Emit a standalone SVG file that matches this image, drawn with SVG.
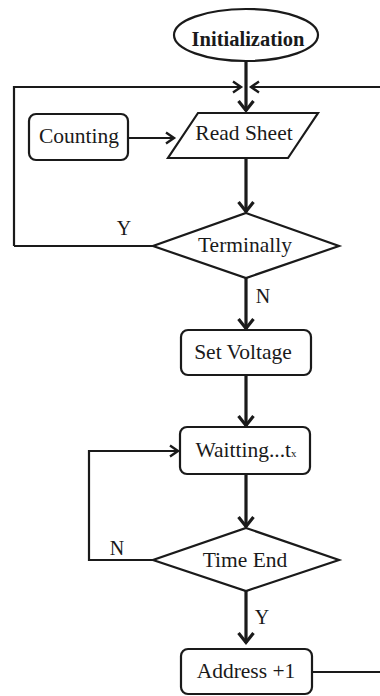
<svg xmlns="http://www.w3.org/2000/svg" width="380" height="696" viewBox="0 0 380 696">
  <style>
    .shape { fill: #ffffff; stroke: #1a1a1a; stroke-width: 2.2; }
    .label { font-family: "Liberation Serif", "Times New Roman", serif; font-size: 21.5px; fill: #1a1a1a; text-anchor: middle; }
    .title { font-weight: bold; font-size: 20.5px; }
    .yn { font-family: "Liberation Serif", "Times New Roman", serif; font-size: 20px; fill: #1a1a1a; }
    .flow { fill: none; stroke: #1a1a1a; stroke-width: 3.2; }
    .line { fill: none; stroke: #1a1a1a; stroke-width: 2.2; }
  </style>
  <defs>
    <marker id="head" markerUnits="userSpaceOnUse" viewBox="0 0 12 18" refX="11" refY="9" markerWidth="12" markerHeight="18" orient="auto" overflow="visible">
      <path d="M1,1.5 L10.5,9 L1,16.5" fill="none" stroke="#1a1a1a" stroke-width="3.2"/>
    </marker>
    <marker id="headThin" markerUnits="userSpaceOnUse" viewBox="0 0 10 14" refX="9" refY="7" markerWidth="10" markerHeight="14" orient="auto" overflow="visible">
      <path d="M1,1.5 L9,7 L1,12.5" fill="none" stroke="#1a1a1a" stroke-width="2.4"/>
    </marker>
  </defs>
  <rect width="380" height="696" fill="#ffffff"/>

  <!-- connectors -->
  <g id="connectors">
    <path class="flow" d="M246,61 V111" marker-end="url(#head)"/>
    <path class="line" d="M14,246 V87 H241" marker-end="url(#headThin)"/>
    <path class="line" d="M380,87 H251" marker-end="url(#headThin)"/>
    <path class="line" d="M128,138 H174" marker-end="url(#headThin)"/>
    <path class="flow" d="M246,158 V212" marker-end="url(#head)"/>
    <path class="line" d="M153,246 H14"/>
    <path class="flow" d="M246,277 V329" marker-end="url(#head)"/>
    <path class="flow" d="M246,375 V426" marker-end="url(#head)"/>
    <path class="line" d="M153,560 H89 V451 H178" marker-end="url(#headThin)"/>
    <path class="flow" d="M246,474 V527" marker-end="url(#head)"/>
    <path class="flow" d="M246,591 V643" marker-end="url(#head)"/>
    <path class="line" d="M312,672 H380"/>
    <text class="yn" x="124" y="235" text-anchor="middle">Y</text>
    <text class="yn" x="263" y="303" text-anchor="middle">N</text>
    <text class="yn" x="117" y="555" text-anchor="middle">N</text>
    <text class="yn" x="262" y="624" text-anchor="middle">Y</text>
  </g>

  <g id="init">
    <ellipse class="shape" cx="246" cy="35" rx="72" ry="26"/>
    <text class="label title" x="248" y="46">Initialization</text>
  </g>

  <g id="counting">
    <rect class="shape" x="29" y="114" width="99" height="46" rx="7"/>
    <text class="label" x="79" y="143">Counting</text>
  </g>

  <g id="read-sheet">
    <polygon class="shape" points="198,113 318,113 288,158 168,158"/>
    <text class="label" x="244" y="140">Read Sheet</text>
  </g>

  <g id="terminally">
    <polygon class="shape" points="246,213 339,246 246,278 153,246"/>
    <text class="label" x="245" y="252">Terminally</text>
  </g>

  <g id="set-voltage">
    <rect class="shape" x="181" y="330" width="130" height="45" rx="7"/>
    <text class="label" x="243" y="359">Set Voltage</text>
  </g>

  <g id="waiting">
    <rect class="shape" x="180" y="427" width="130" height="47" rx="7"/>
    <text class="label" x="246" y="457">Waitting...t<tspan font-size="11">x</tspan></text>
  </g>

  <g id="time-end">
    <polygon class="shape" points="246,528 339,560 246,591 153,560"/>
    <text class="label" x="245" y="567">Time End</text>
  </g>

  <g id="address">
    <rect class="shape" x="181" y="649" width="131" height="45" rx="7"/>
    <text class="label" x="246" y="678">Address +1</text>
  </g>
</svg>
